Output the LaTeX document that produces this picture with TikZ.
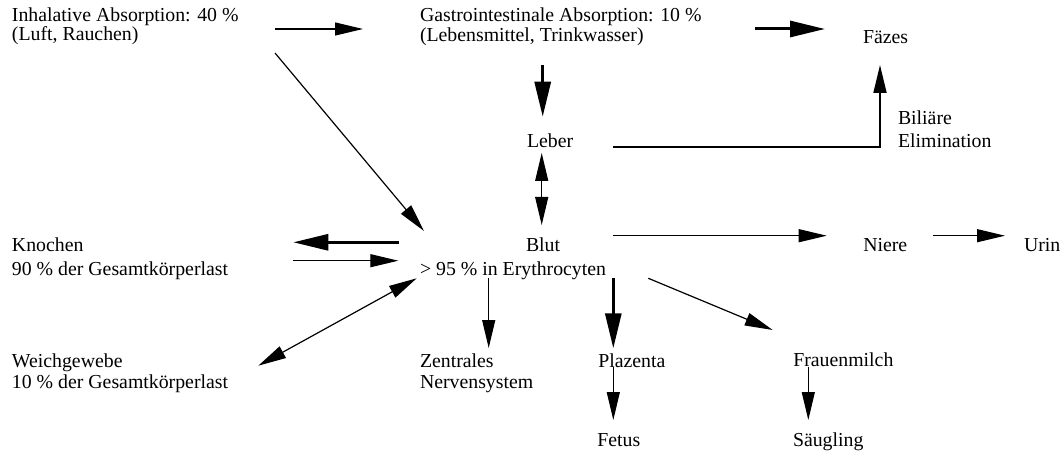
\documentclass[tikz,border=0pt]{standalone}
\usepackage{fontspec}
\setmainfont{Liberation Serif}
\usetikzlibrary{arrows.meta}
\newcommand\twolines[3]{\vtop{\baselineskip=#1pt\hbox{#2}\hbox{#3}}}
\begin{document}
\begin{tikzpicture}[x=1pt,y=-1pt,
  lbl/.style={anchor=base west,inner sep=0pt,outer sep=0pt,font=\fontsize{19.8}{21}\selectfont},
  thinarr/.style={line width=1.2pt,-{Triangle[length=28pt,width=13pt]}},
  thinboth/.style={line width=1.2pt,{Triangle[length=28pt,width=13pt]}-{Triangle[length=28pt,width=13pt]}},
  thickarr/.style={line width=3pt,-{Triangle[length=35pt,width=16pt]}},
  biliarr/.style={line width=1.8pt,-{Triangle[length=28pt,width=13pt]}}]
\path[use as bounding box] (0,0) rectangle (1062,454);

% nodes
\node[lbl] (inhal) at (12,21.5) {\twolines{19}{Inhalative Absorption: 40 \%}{(Luft, Rauchen)}};
\node[lbl] (gastro) at (420,21.5) {\twolines{20.5}{Gastrointestinale Absorption: 10 \%}{(Lebensmittel, Trinkwasser)}};
\node[lbl] (faezes) at (863,44) {Fäzes};
\node[lbl] (leber) at (527,147.7) {Leber};
\node[lbl] (bili) at (898,125) {\twolines{22.7}{Biliäre}{Elimination}};
\node[lbl] (knochen) at (12,251.7) {\twolines{23.3}{Knochen}{90 \% der Gesamtkörperlast}};
\node[lbl] (blut) at (420,251.7) {\twolines{23.3}{\hspace*{106pt}Blut}{> 95 \% in Erythrocyten}};
\node[lbl] (niere) at (863.3,251.7) {Niere};
\node[lbl] (urin) at (1024,251.7) {Urin};
\node[lbl] (weich) at (12,367.3) {\twolines{21}{Weichgewebe}{10 \% der Gesamtkörperlast}};
\node[lbl] (zns) at (420,367.3) {\twolines{21}{Zentrales}{Nervensystem}};
\node[lbl] (plaz) at (598.3,367.3) {Plazenta};
\node[lbl] (frau) at (793.3,366.7) {Frauenmilch};
\node[lbl] (fetus) at (597.3,446.7) {Fetus};
\node[lbl] (saeug) at (793,446.7) {Säugling};

% connector end points
\coordinate (ig1) at (275,29);    \coordinate (ig2) at (363,29);
\coordinate (ib1) at (275,53);    \coordinate (ib2) at (424,231);
\coordinate (gf1) at (755,29);    \coordinate (gf2) at (825,29);
\coordinate (gl1) at (542.7,65);  \coordinate (gl2) at (542.7,116.7);
\coordinate (lf1) at (613,146.7); \coordinate (lf2) at (880,65);
\coordinate (lb1) at (541.7,153); \coordinate (lb2) at (541.7,225);
\coordinate (bk1) at (399.3,242.3); \coordinate (bk2) at (293.3,242.3);
\coordinate (kb1) at (292.7,260.7); \coordinate (kb2) at (398.3,260.7);
\coordinate (wb1) at (258.3,365.7); \coordinate (wb2) at (416.7,278.3);
\coordinate (bn1) at (613,235.7); \coordinate (bn2) at (826.7,235.7);
\coordinate (nu1) at (933,235.7); \coordinate (nu2) at (1005,235.7);
\coordinate (bz1) at (488.7,278); \coordinate (bz2) at (488.7,348);
\coordinate (bp1) at (613.3,278.3); \coordinate (bp2) at (613.3,348.3);
\coordinate (bm1) at (648.3,278.3); \coordinate (bm2) at (772.7,330);
\coordinate (pf1) at (613.3,366.7); \coordinate (pf2) at (613.3,420);
\coordinate (ms1) at (808.3,366.7); \coordinate (ms2) at (808.3,420);

% connectors
\draw[thinarr] (ig1) -- (ig2);
\draw[thinarr] (ib1) -- (ib2);
\draw[thickarr] (gf1) -- (gf2);
\draw[thickarr] (gl1) -- (gl2);
\draw[biliarr] (lf1) -| (lf2);
\draw[thinboth] (lb1) -- (lb2);
\draw[thickarr] (bk1) -- (bk2);
\draw[thinarr] (kb1) -- (kb2);
\draw[thinboth] (wb1) -- (wb2);
\draw[thinarr] (bn1) -- (bn2);
\draw[thinarr] (nu1) -- (nu2);
\draw[thinarr] (bz1) -- (bz2);
\draw[thickarr] (bp1) -- (bp2);
\draw[thinarr] (bm1) -- (bm2);
\draw[thinarr] (pf1) -- (pf2);
\draw[thinarr] (ms1) -- (ms2);
\end{tikzpicture}
\end{document}
